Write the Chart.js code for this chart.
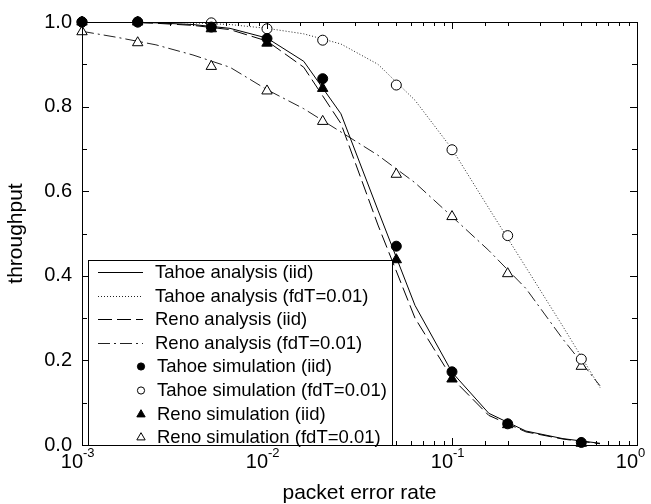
<!DOCTYPE html>
<html>
<head>
<meta charset="utf-8">
<script src="https://cdn.jsdelivr.net/npm/chart.js@4.4.1/dist/chart.umd.min.js"></script>
<style>
  body { margin: 0; background: #fff; }
</style>
</head>
<body>
<canvas id="chart" width="651" height="504"></canvas>
<script>
// packet error rates used in the simulations
const simX = [0.001, 0.002, 0.005, 0.01, 0.02, 0.05, 0.1, 0.2, 0.5];
const tahoeSimIid = [1.0, 1.0, 0.988, 0.961, 0.866, 0.47, 0.173, 0.05, 0.006];
const tahoeSimFd = [1.0, 1.0, 0.998, 0.984, 0.957, 0.851, 0.698, 0.495, 0.203];
const renoSimIid = [1.0, 1.0, 0.984, 0.95, 0.843, 0.438, 0.156, 0.048, 0.004];
const renoSimFd = [0.977, 0.951, 0.895, 0.837, 0.765, 0.64, 0.54, 0.405, 0.186];

// analysis curves, sampled every 0.2 decade
const anaX = [0.001, 0.00158, 0.00251, 0.00398, 0.00631, 0.01, 0.0158, 0.0251,
  0.0398, 0.0631, 0.1, 0.158, 0.251, 0.398, 0.631];
const tahoeAnaIid = [1.0, 1.0, 0.998, 0.994, 0.985, 0.962, 0.907, 0.783, 0.555, 0.33, 0.172, 0.075, 0.033, 0.015, 0.004];
const tahoeAnaFd = [1.0, 1.0, 1.0, 0.998, 0.994, 0.985, 0.972, 0.948, 0.9, 0.815, 0.70, 0.56, 0.42, 0.28, 0.136];
const renoAnaIid = [1.0, 1.0, 0.997, 0.992, 0.982, 0.955, 0.893, 0.76, 0.52, 0.30, 0.158, 0.07, 0.031, 0.014, 0.003];
const renoAnaFd = [0.978, 0.963, 0.946, 0.922, 0.893, 0.84, 0.795, 0.74, 0.685, 0.62, 0.54, 0.46, 0.37, 0.25, 0.14];

const seriesLabels = [
  "Tahoe analysis (iid)",
  "Tahoe analysis (fdT=0.01)",
  "Reno analysis (iid)",
  "Reno analysis (fdT=0.01)",
  "Tahoe simulation (iid)",
  "Tahoe simulation (fdT=0.01)",
  "Reno simulation (iid)",
  "Reno simulation (fdT=0.01)"
];

const FONT = "'Liberation Sans', Arial, Helvetica, sans-serif";

const toPoints = (xs, ys) => xs.map((x, i) => ({ x: x, y: ys[i] }));

const lineSet = (label, ys, dash, color) => ({
  label: label,
  data: toPoints(anaX, ys),
  showLine: true,
  borderColor: color || "#000",
  borderWidth: 1,
  borderDash: dash,
  pointRadius: 0,
  tension: 0,
  order: 2
});

const markSet = (label, ys, style, filled, radius) => ({
  label: label,
  data: toPoints(simX, ys),
  showLine: false,
  pointStyle: style,
  pointRadius: radius,
  pointBackgroundColor: filled ? "#000" : "#fff",
  pointBorderColor: "#000",
  pointBorderWidth: 1,
  clip: false,
  order: 1
});

const datasets = [
  lineSet(seriesLabels[0], tahoeAnaIid, []),
  lineSet(seriesLabels[1], tahoeAnaFd, [1, 2], "#222"),
  lineSet(seriesLabels[2], renoAnaIid, [14, 5]),
  lineSet(seriesLabels[3], renoAnaFd, [12, 4, 2, 4], "#222"),
  markSet(seriesLabels[4], tahoeSimIid, "circle", true, 5),
  markSet(seriesLabels[5], tahoeSimFd, "circle", false, 5),
  markSet(seriesLabels[6], renoSimIid, "triangle", true, 6),
  markSet(seriesLabels[7], renoSimFd, "triangle", false, 6)
];

const isDecade = (v) => Math.abs(Math.log10(v) - Math.round(Math.log10(v))) < 1e-6;
const isMajorY = (v) => Math.round(v * 10) % 2 === 0;

// frame with inward ticks on all four sides
const frameTicks = {
  id: "frameTicks",
  afterDatasetsDraw(chart) {
    const { ctx, chartArea: a, scales } = chart;
    ctx.save();
    ctx.strokeStyle = "#000";
    ctx.lineWidth = 1;
    ctx.setLineDash([]);
    ctx.beginPath();
    scales.x.ticks.forEach((t) => {
      const px = Math.round(scales.x.getPixelForValue(t.value)) + 0.5;
      const len = isDecade(t.value) ? 7 : 4;
      ctx.moveTo(px, a.bottom); ctx.lineTo(px, a.bottom - len);
      ctx.moveTo(px, a.top); ctx.lineTo(px, a.top + len);
    });
    scales.y.ticks.forEach((t) => {
      const py = Math.round(scales.y.getPixelForValue(t.value)) + 0.5;
      const len = isMajorY(t.value) ? 7 : 5;
      ctx.moveTo(a.left, py); ctx.lineTo(a.left + len, py);
      ctx.moveTo(a.right, py); ctx.lineTo(a.right - len, py);
    });
    ctx.stroke();
    ctx.strokeRect(Math.round(a.left) + 0.5, Math.round(a.top) + 0.5,
      Math.round(a.right - a.left), Math.round(a.bottom - a.top));
    ctx.restore();
  }
};

// decade labels 10^n under the x axis
const decadeLabels = {
  id: "decadeLabels",
  afterDraw(chart) {
    const { ctx, chartArea: a, scales } = chart;
    ctx.save();
    ctx.fillStyle = "#000";
    ctx.textBaseline = "alphabetic";
    scales.x.ticks.filter((t) => isDecade(t.value)).forEach((t) => {
      const px = scales.x.getPixelForValue(t.value);
      const exp = Math.round(Math.log10(t.value));
      ctx.font = "20px " + FONT;
      ctx.textAlign = "right";
      ctx.fillText("10", px + 1, a.bottom + 23);
      ctx.font = "13px " + FONT;
      ctx.textAlign = "left";
      ctx.fillText(String(exp), px + 1, a.bottom + 12);
    });
    ctx.restore();
  }
};

// boxed legend inside the lower left of the plot
const boxLegend = {
  id: "boxLegend",
  afterDraw(chart) {
    const { ctx, chartArea: a } = chart;
    const left = a.left + 6.5, top = 260.5, right = 392.5, bottom = a.bottom + 0.5;
    const rowH = 23.6, firstRow = 272;
    ctx.save();
    ctx.fillStyle = "#fff";
    ctx.fillRect(left, top, right - left, bottom - top);
    ctx.strokeStyle = "#000";
    ctx.lineWidth = 1;
    ctx.strokeRect(left, top, right - left, bottom - top);
    ctx.font = "18.5px " + FONT;
    ctx.textBaseline = "middle";
    ctx.textAlign = "left";
    datasets.forEach((ds, i) => {
      const y = Math.round(firstRow + i * rowH) + 0.5;
      ctx.fillStyle = "#000";
      if (ds.showLine) {
        ctx.strokeStyle = ds.borderColor;
        ctx.setLineDash(ds.borderDash);
        ctx.beginPath();
        ctx.moveTo(98, y);
        ctx.lineTo(143, y);
        ctx.stroke();
        ctx.setLineDash([]);
        ctx.fillText(ds.label, 155, y);
      } else {
        const cx = 141, r = ds.pointStyle === "circle" ? 3.6 : 4.8;
        ctx.beginPath();
        if (ds.pointStyle === "circle") {
          ctx.arc(cx, y, r, 0, Math.PI * 2);
        } else {
          ctx.moveTo(cx, y - r);
          ctx.lineTo(cx + r * 0.866, y + r * 0.5);
          ctx.lineTo(cx - r * 0.866, y + r * 0.5);
          ctx.closePath();
        }
        ctx.fillStyle = ds.pointBackgroundColor;
        ctx.fill();
        ctx.strokeStyle = "#000";
        ctx.stroke();
        ctx.fillStyle = "#000";
        ctx.fillText(ds.label, 157, y);
      }
    });
    ctx.restore();
  }
};

new Chart(document.getElementById("chart"), {
  type: "scatter",
  data: { datasets: datasets },
  options: {
    responsive: false,
    animation: false,
    devicePixelRatio: 1,
    layout: { padding: { left: 0, top: 15, right: 14, bottom: 0 } },
    plugins: { legend: { display: false }, tooltip: { enabled: false } },
    scales: {
      x: {
        type: "logarithmic",
        min: 0.001,
        max: 1,
        grid: { display: false, drawTicks: false },
        border: { display: false },
        ticks: { display: false },
        title: {
          display: true,
          text: "packet error rate",
          color: "#000",
          font: { family: FONT, size: 21, lineHeight: 1 },
          padding: { top: 0, bottom: 0 }
        },
        afterFit: (scale) => { scale.height = 59; }
      },
      y: {
        min: 0,
        max: 1,
        grid: { display: false, drawTicks: false },
        border: { display: false },
        ticks: {
          stepSize: 0.1,
          autoSkip: false,
          padding: 10,
          color: "#000",
          font: { family: FONT, size: 20 },
          callback: (v) => (isMajorY(v) ? v.toFixed(1) : "")
        },
        title: {
          display: true,
          text: "throughput",
          color: "#000",
          font: { family: FONT, size: 21 },
          padding: { top: 4, bottom: 0 }
        },
        afterFit: (scale) => { scale.width = 82; }
      }
    }
  },
  plugins: [frameTicks, decadeLabels, boxLegend]
});
</script>
</body>
</html>
